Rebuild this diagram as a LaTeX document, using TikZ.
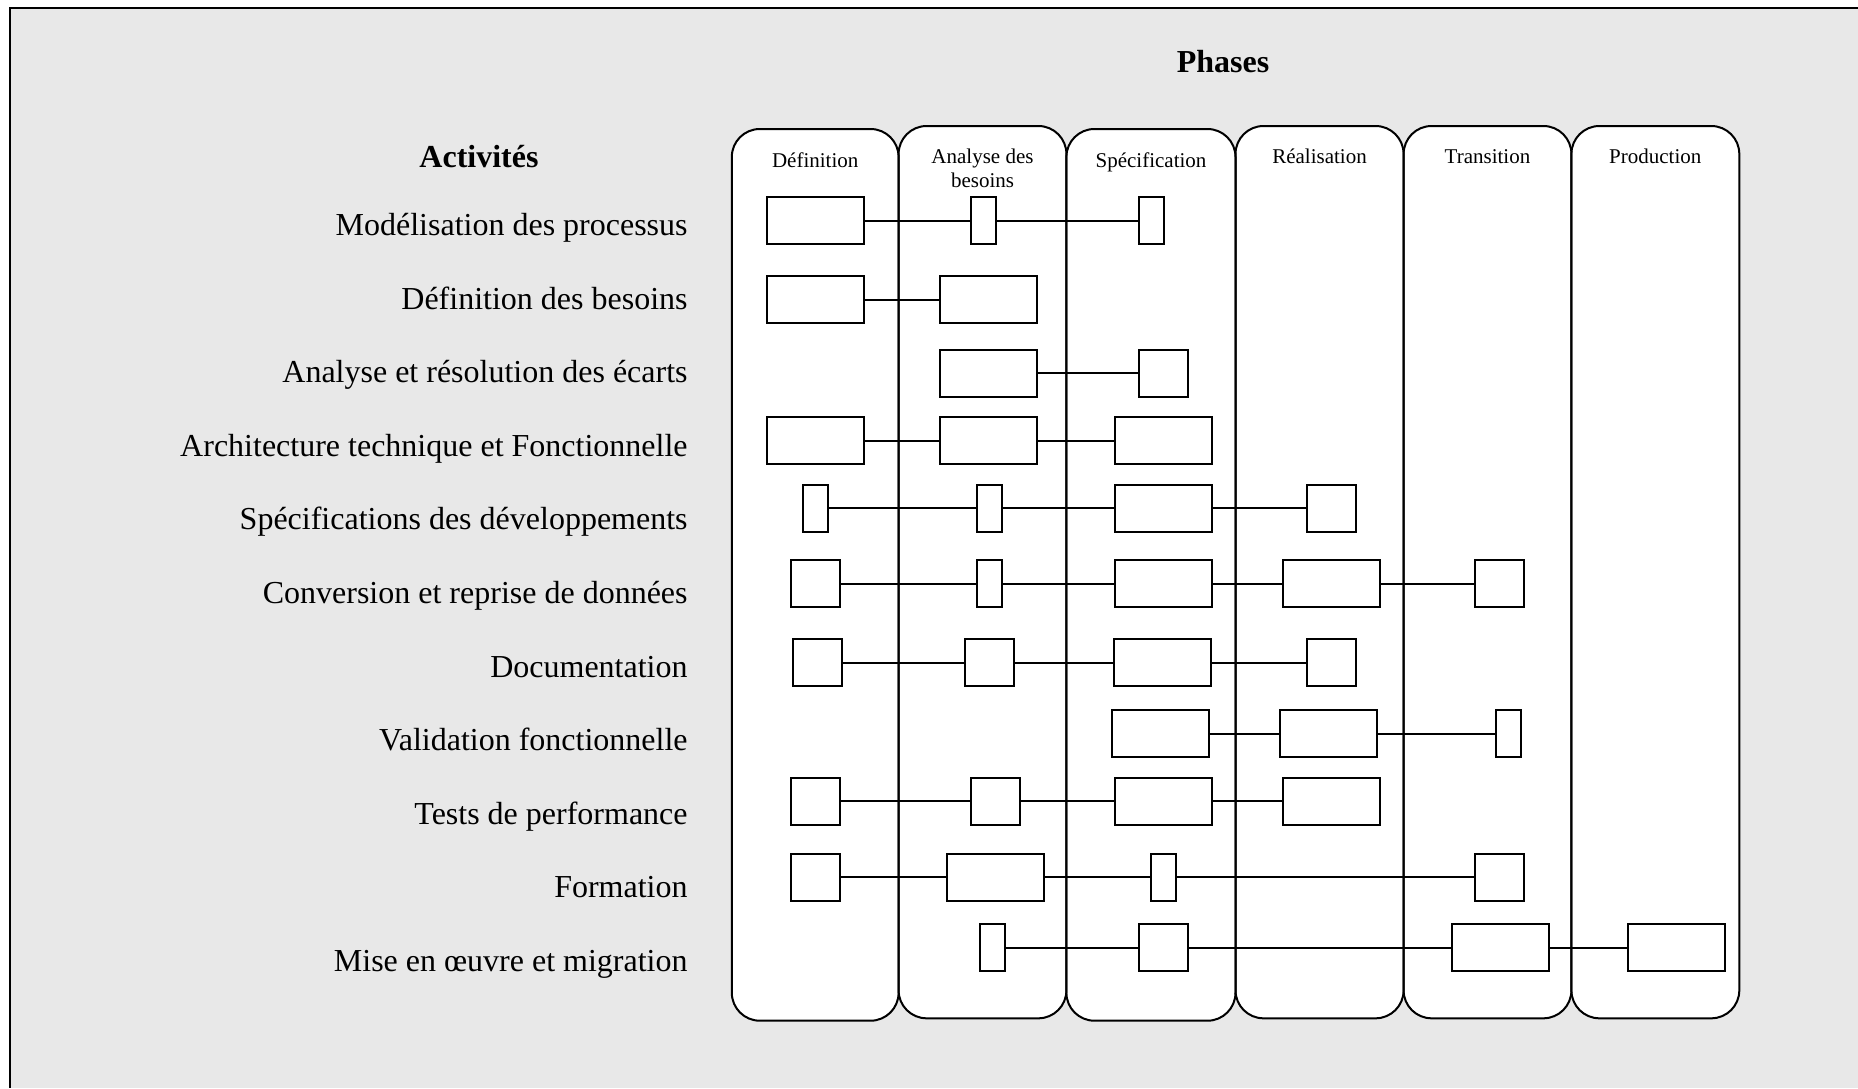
\documentclass[tikz,border=0pt]{standalone}
\usepackage{fontspec}
\setmainfont{Liberation Serif}
\definecolor{bggray}{HTML}{E8E8E8}
\begin{document}
\begin{tikzpicture}[x=0.5pt,y=-0.5pt,
  lbl/.style={anchor=base east, inner sep=0, font=\fontsize{16}{19}\selectfont},
  ttl/.style={anchor=base, inner sep=0, font=\fontsize{16}{19}\selectfont\bfseries},
  hdr/.style={anchor=base, inner sep=0, font=\fontsize{10.5}{12.2}\selectfont, align=center},
  bx/.style={draw=black, fill=white, line width=1pt, inner sep=0, outer sep=0, minimum height=23.5pt},
  wbox/.style={bx, minimum width=48.5pt},
  mbox/.style={bx, minimum width=24.5pt},
  nbox/.style={bx, minimum width=12.5pt},
  conn/.style={line width=1pt},
  colfr/.style={line width=1pt, rounded corners=14pt}]

\useasboundingbox (0,0) rectangle (1858,1088);
\fill[white] (0,0) rectangle (1858,1088);
\fill[bggray] (10,8) rectangle (1858,1088);
\draw[line width=1pt] (1858,8) -- (10,8) -- (10,1088);

% titles
\node[ttl] (phases) at (1223,72.5) {Phases};
\node[ttl] (activites) at (479,167.5) {Activités};

% phase columns
\foreach \xa/\xb/\ya/\yb in {731.8/898.6/129/1020.7, 898.6/1066.4/126/1018.3, 1066.4/1235.5/129/1020.7,
  1235.5/1403.6/126/1018.3, 1403.6/1571.4/126/1018.3, 1571.4/1739.3/126/1018.3}
  \fill[white, colfr] (\xa,\ya) rectangle (\xb,\yb);
\foreach \xa/\xb/\ya/\yb in {731.8/898.6/129/1020.7, 898.6/1066.4/126/1018.3, 1066.4/1235.5/129/1020.7,
  1235.5/1403.6/126/1018.3, 1403.6/1571.4/126/1018.3, 1571.4/1739.3/126/1018.3}
  \draw[colfr] (\xa,\ya) rectangle (\xb,\yb);

% phase headers
\node[hdr] (hdef) at (815.2,167) {Définition};
\node[hdr] (hana) at (982.5,187.7) {Analyse des\\besoins};
\node[hdr] (hspe) at (1151,167) {Spécification};
\node[hdr] (hrea) at (1319.5,163.3) {Réalisation};
\node[hdr] (htra) at (1487.5,163.3) {Transition};
\node[hdr] (hpro) at (1655.3,163.3) {Production};

% activity labels
\node[lbl] (l1) at (688,235.5) {Modélisation des processus};
\node[lbl] (l2) at (688,309.1) {Définition des besoins};
\node[lbl] (l3) at (688,382.7) {Analyse et résolution des écarts};
\node[lbl] (l4) at (688,456.3) {Architecture technique et Fonctionnelle};
\node[lbl] (l5) at (688,529.9) {Spécifications des développements};
\node[lbl] (l6) at (688,603.5) {Conversion et reprise de données};
\node[lbl] (l7) at (688,677.1) {Documentation};
\node[lbl] (l8) at (688,750.7) {Validation fonctionnelle};
\node[lbl] (l9) at (688,824.3) {Tests de performance};
\node[lbl] (l10) at (688,897.9) {Formation};
\node[lbl] (l11) at (688,971.5) {Mise en œuvre et migration};

% row 1
\node[wbox] (a1) at (815,220.8) {};
\node[nbox] (a2) at (983.2,220.8) {};
\node[nbox] (a3) at (1151.4,220.8) {};
% row 2
\node[wbox] (b1) at (815,299.7) {};
\node[wbox] (b2) at (988.9,299.7) {};
% row 3
\node[wbox] (c1) at (988.9,373) {};
\node[mbox] (c2) at (1163.4,373) {};
% row 4
\node[wbox] (d1) at (815,440.5) {};
\node[wbox] (d2) at (988.9,440.5) {};
\node[wbox] (d3) at (1163.6,440.5) {};
% row 5
\node[nbox] (e1) at (815.2,508.3) {};
\node[nbox] (e2) at (989.5,508.3) {};
\node[wbox] (e3) at (1163.6,508.3) {};
\node[mbox] (e4) at (1331.4,508.3) {};
% row 6
\node[mbox] (f1) at (815.7,583.7) {};
\node[nbox] (f2) at (989.5,583.7) {};
\node[wbox] (f3) at (1163.6,583.7) {};
\node[wbox] (f4) at (1331.6,583.7) {};
\node[mbox] (f5) at (1499.5,583.7) {};
% row 7
\node[mbox] (g1) at (817.9,662.7) {};
\node[mbox] (g2) at (989.6,662.7) {};
\node[wbox] (g3) at (1162.3,662.7) {};
\node[mbox] (g4) at (1331.4,662.7) {};
% row 8
\node[wbox] (h1) at (1160,733.7) {};
\node[wbox] (h2) at (1328.2,733.7) {};
\node[nbox] (h3) at (1508.2,733.7) {};
% row 9
\node[mbox] (i1) at (815.7,801.2) {};
\node[mbox] (i2) at (995.5,801.2) {};
\node[wbox] (i3) at (1163.4,801.2) {};
\node[wbox] (i4) at (1331.6,801.2) {};
% row 10
\node[mbox] (j1) at (815.3,877.3) {};
\node[wbox] (j2) at (995.4,877.3) {};
\node[nbox] (j3) at (1163.6,877.3) {};
\node[mbox] (j4) at (1499.6,877.3) {};
% row 11
\node[nbox] (k1) at (992.3,947.8) {};
\node[mbox] (k2) at (1163.4,947.8) {};
\node[wbox] (k3) at (1500,947.8) {};
\node[wbox] (k4) at (1676.3,947.8) {};

% connectors
\draw[conn] (a1) -- (a2) -- (a3);
\draw[conn] (b1) -- (b2);
\draw[conn] (c1) -- (c2);
\draw[conn] (d1) -- (d2) -- (d3);
\draw[conn] (e1) -- (e2) -- (e3) -- (e4);
\draw[conn] (f1) -- (f2) -- (f3) -- (f4) -- (f5);
\draw[conn] (g1) -- (g2) -- (g3) -- (g4);
\draw[conn] (h1) -- (h2) -- (h3);
\draw[conn] (i1) -- (i2) -- (i3) -- (i4);
\draw[conn] (j1) -- (j2) -- (j3) -- (j4);
\draw[conn] (k1) -- (k2) -- (k3) -- (k4);
\end{tikzpicture}
\end{document}
